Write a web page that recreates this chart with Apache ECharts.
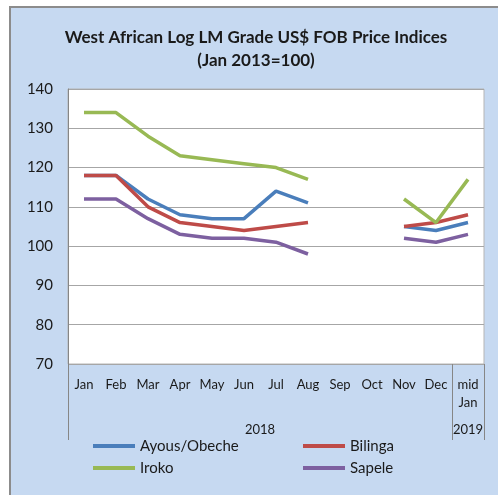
<!DOCTYPE html>
<html>
<head>
<meta charset="utf-8">
<script src="https://cdn.jsdelivr.net/npm/echarts@6/dist/echarts.min.js"></script>
<style>
  html, body { margin: 0; padding: 0; background: #fff; }
  #main { width: 498px; height: 495px; }
</style>
</head>
<body>
<div id="main"></div>
<script>
var months = ['Jan', 'Feb', 'Mar', 'Apr', 'May', 'Jun', 'Jul', 'Aug', 'Sep', 'Oct', 'Nov', 'Dec', 'mid\nJan'];
var years = ['2018', '2019'];
var yearSpans = [12, 1]; // months under each year

var ayous   = [118, 118, 112, 108, 107, 107, 114, 111, null, null, 105, 104, 106];
var bilinga = [118, 118, 110, 106, 105, 104, 105, 106, null, null, 105, 106, 108];
var iroko   = [134, 134, 128, 123, 122, 121, 120, 117, null, null, 112, 106, 117];
var sapele  = [112, 112, 107, 103, 102, 102, 101, 98, null, null, 102, 101, 103];

var FONT = 'Lato';

// year group boundaries and centres on a 0..13 value scale
var bounds = [0], centres = [];
var acc = 0;
yearSpans.forEach(function (s) {
    centres.push(acc + s / 2);
    acc += s;
    bounds.push(acc);
});

var chart = echarts.init(document.getElementById('main'), null, { renderer: 'canvas' });

function line(name, data, color) {
    return {
        name: name,
        type: 'line',
        data: data,
        symbol: 'none',
        connectNulls: false,
        lineStyle: { width: 3.5, color: color },
        itemStyle: { color: color }
    };
}

var legendText = { fontFamily: FONT, fontSize: 15, color: '#1a1a1a', lineHeight: 16 };

var option = {
    backgroundColor: '#fff',
    animation: false,
    graphic: [{
        type: 'rect',
        z: -10,
        shape: { x: 10, y: 7, width: 500, height: 500 },
        style: { fill: '#c6d9f1', stroke: '#8c8c8c', lineWidth: 2 }
    }],
    title: {
        text: 'West African Log LM Grade US$ FOB Price Indices\n(Jan 2013=100)',
        left: 256,
        top: 26,
        textAlign: 'center',
        padding: 0,
        textStyle: {
            fontFamily: FONT,
            fontSize: 17,
            fontWeight: 'bold',
            color: '#1a1a1a',
            lineHeight: 23,
            align: 'center'
        }
    },
    legend: [{
        data: ['Ayous/Obeche', 'Iroko'],
        orient: 'vertical',
        left: 93,
        top: 438,
        padding: 0,
        icon: 'rect',
        itemWidth: 42,
        itemHeight: 4,
        itemGap: 6,
        textStyle: legendText
    }, {
        data: ['Bilinga', 'Sapele'],
        orient: 'vertical',
        left: 303,
        top: 438,
        padding: 0,
        icon: 'rect',
        itemWidth: 42,
        itemHeight: 4,
        itemGap: 6,
        textStyle: legendText
    }],
    grid: {
        left: 68,
        right: 14,
        top: 89,
        bottom: 131,
        show: true,
        backgroundColor: '#fff',
        borderColor: '#b5b5b5',
        borderWidth: 1
    },
    xAxis: [{
        type: 'category',
        data: months,
        boundaryGap: true,
        axisLine: { show: false },
        axisTick: { show: false },
        axisLabel: {
            interval: 0,
            margin: 12,
            fontFamily: FONT,
            fontSize: 13,
            color: '#1a1a1a',
            lineHeight: 18
        }
    }, {
        type: 'value',
        min: 0,
        max: months.length,
        position: 'bottom',
        axisLine: { show: false },
        splitLine: { show: false },
        axisTick: {
            show: true,
            customValues: bounds,
            length: 76,
            lineStyle: { color: '#868686', width: 1 }
        },
        axisLabel: {
            customValues: centres,
            margin: 59,
            fontFamily: FONT,
            fontSize: 13,
            color: '#1a1a1a',
            formatter: function (v) {
                var i = centres.indexOf(v);
                return i >= 0 ? years[i] : '';
            }
        }
    }],
    yAxis: {
        type: 'value',
        min: 70,
        max: 140,
        interval: 10,
        axisLine: { show: true, lineStyle: { color: '#868686' } },
        axisTick: { show: false },
        axisLabel: {
            margin: 15,
            fontFamily: FONT,
            fontSize: 15,
            color: '#1a1a1a'
        },
        splitLine: { lineStyle: { color: '#a6a6a6', width: 1 } }
    },
    series: [
        line('Ayous/Obeche', ayous, '#4a7ebb'),
        line('Bilinga', bilinga, '#be4b48'),
        line('Iroko', iroko, '#98b954'),
        line('Sapele', sapele, '#7d60a0')
    ]
};

chart.setOption(option);
</script>
</body>
</html>
